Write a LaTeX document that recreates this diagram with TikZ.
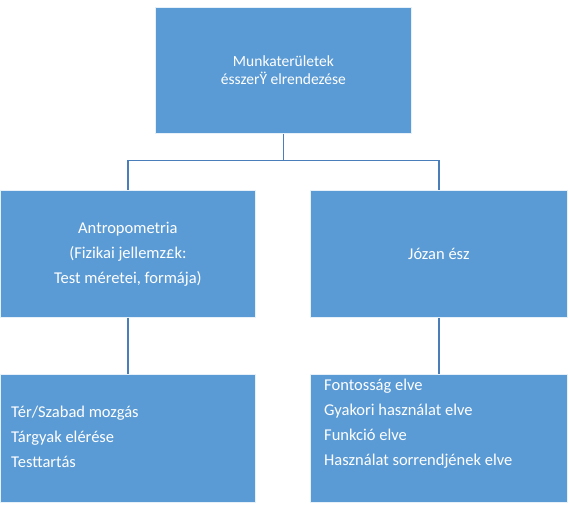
\documentclass[tikz,border=0pt]{standalone}
\usepackage{fontspec}
\setmainfont{Carlito}
\definecolor{boxblue}{HTML}{5B9BD5}
\definecolor{lineblue}{HTML}{4A7EBB}
\begin{document}
\begin{tikzpicture}[x=1pt,y=-1pt,
  box/.style={draw=white!85!boxblue,line width=0.8pt,fill=boxblue,text=white,inner sep=0pt,anchor=north west},
  conn/.style={draw=lineblue,line width=1.2pt},
  listtext/.style={anchor=west,text=white,font=\fontsize{16.5}{25}\selectfont,align=left,inner sep=0pt}]
\useasboundingbox (0,0) rectangle (570,510);
\node[box,minimum width=256pt,minimum height=126pt,font=\fontsize{15.5}{18}\selectfont,align=center] (top) at (155,7) {Munkaterületek\\ésszerŸ elrendezése};
\node[box,minimum width=255pt,minimum height=127pt,font=\fontsize{16.5}{25}\selectfont,align=center] (anth) at (0,190) {Antropometria\\(Fizikai jellemz£k:\\Test méretei, formája)};
\node[box,minimum width=257pt,minimum height=127pt,font=\fontsize{16.5}{25}\selectfont,align=center] (joz) at (310,190) {Józan ész};
\node[box,minimum width=255pt,minimum height=128pt] (bl) at (0,374) {};
\node[box,minimum width=257pt,minimum height=128pt] (br) at (310,374) {};
\node[listtext] (blt) at (11,437) {Tér/Szabad mozgás\\Tárgyak elérése\\Testtartás};
\node[listtext] (brt) at (324,424) {Fontosság elve\\Gyakori használat elve\\Funkció elve\\Használat sorrendjének elve};
\coordinate (mid) at ([yshift=-27pt]top.south);
\draw[conn] (top.south) -- (mid);
\draw[conn] (anth.north) |- (mid) -| (joz.north);
\draw[conn] (anth.south) -- (bl.north);
\draw[conn] (joz.south) -- (br.north);
\end{tikzpicture}
\end{document}
